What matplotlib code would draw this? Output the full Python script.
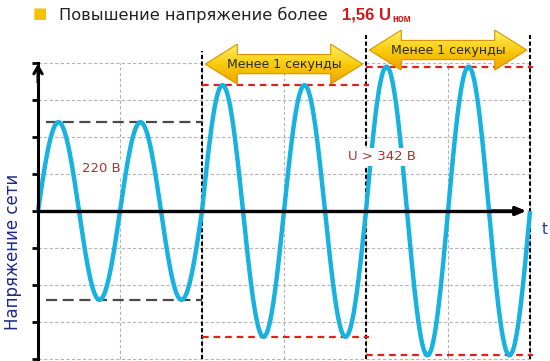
import numpy as np
import matplotlib.pyplot as plt
from matplotlib.patches import Polygon
from matplotlib.colors import LinearSegmentedColormap

# Участки сигнала: границы (в периодах) и амплитуда (в клетках сетки)
seg_start = [0, 2, 4]
seg_end = [2, 4, 6]
amplitudes = [2.4, 3.4, 3.9]
level_colors = ["#4a4a4a", "#e0201c", "#e0201c"]

# Сетка
grid_y = [-4, -3, -2, -1, 1, 2, 3, 4]
grid_x = [1, 2, 3, 4, 5, 6]

# Стрелки "Менее 1 секунды": начало, конец, высота центра
arrow_x0 = [2, 4]
arrow_x1 = [4, 6]
arrow_y = [3.97, 4.35]
arrow_text = "Менее 1 секунды"

# Границы участков (вертикальные пунктиры) и их верх
bound_x = [2, 4, 6]
bound_top = [4.32, 4.76, 4.76]

fig = plt.figure(figsize=(5.5, 3.61), dpi=100)
ax = fig.add_axes([0, 0, 1, 1])
ax.set_xlim(-38 / 82, 512 / 82)
ax.set_ylim((211 - 361) / 37, 211 / 37)

# Сетка серым пунктиром
ax.hlines(grid_y, 0, 6, colors="#b4b4b4", linestyles=(0, (3, 2)), lw=0.8, zorder=1)
ax.vlines(grid_x, -4, 4, colors="#b4b4b4", linestyles=(0, (3, 2)), lw=0.8, zorder=1)

# Синусоида
for x0, x1, a in zip(seg_start, seg_end, amplitudes):
    t = np.linspace(x0, x1, 400)
    ax.plot(t, a * np.sin(2 * np.pi * t), color="#18b2e0", lw=3.2, zorder=4,
            solid_capstyle="butt")

# Уровни амплитуды
for x0, x1, a, c in zip(seg_start, seg_end, amplitudes, level_colors):
    if c == "#4a4a4a":
        ax.hlines([a, -a], x0 + 0.1, x1, colors=c, linestyles=(0, (5, 2.5)), lw=1.6, zorder=3)
    else:
        ax.hlines([a, -a], x0, x1 + 0.04, colors=c, linestyles=(0, (3, 2.2)), lw=1.6, zorder=3)

# Границы участков
for x, top in zip(bound_x, bound_top):
    ax.vlines(x, -4, top, colors="black", linestyles=(0, (2, 1.2)), lw=1.5, zorder=2)

# Оси со стрелками
ax.spines[["top", "right"]].set_visible(False)
ax.spines["left"].set_position(("data", 0))
ax.spines["bottom"].set_position(("data", 0))
ax.spines["left"].set_bounds(-4, 4)
ax.spines["bottom"].set_bounds(0, 5.75)
ax.spines["left"].set_linewidth(2.2)
ax.spines["bottom"].set_linewidth(2.4)
ax.spines["left"].set_zorder(5)
ax.spines["bottom"].set_zorder(5)
ax.set_yticks(grid_y + [0])
ax.set_xticks([])
ax.tick_params(axis="y", direction="out", length=4, width=2, labelleft=False)
ax.annotate("", xy=(0, 4.05), xytext=(0, 3.4),
            arrowprops=dict(arrowstyle="->,head_length=0.5,head_width=0.3", lw=2.2, color="black"),
            zorder=6)
ax.annotate("", xy=(5.99, 0), xytext=(5.5, 0),
            arrowprops=dict(arrowstyle="-|>,head_length=0.6,head_width=0.25", lw=2.4, color="black"),
            zorder=6)

# Жёлтые двойные стрелки с градиентом
cmap = LinearSegmentedColormap.from_list("gold", ["#fff06a", "#f9cc0c", "#eda400"])
body, head, hl, inset = 0.26, 0.54, 0.39, 0.04
for x0, x1, yc in zip(arrow_x0, arrow_x1, arrow_y):
    a0, a1 = x0 + inset, x1 - inset
    pts = [(a0, yc), (a0 + hl, yc + head), (a0 + hl, yc + body), (a1 - hl, yc + body),
           (a1 - hl, yc + head), (a1, yc), (a1 - hl, yc - head), (a1 - hl, yc - body),
           (a0 + hl, yc - body), (a0 + hl, yc - head)]
    poly = Polygon(pts, closed=True, fc="none", ec="#d99400", lw=0.8, zorder=8)
    ax.add_patch(poly)
    grad = np.linspace(0, 1, 64).reshape(-1, 1)
    im = ax.imshow(grad, cmap=cmap, aspect="auto", origin="upper",
                   extent=(a0, a1, yc - head, yc + head), zorder=7)
    im.set_clip_path(poly)
    ax.text((x0 + x1) / 2, yc, arrow_text, ha="center", va="center",
            fontsize=9, color="#2a2a2a", zorder=9)
ax.set_xlim(-38 / 82, 512 / 82)
ax.set_ylim((211 - 361) / 37, 211 / 37)

# Подписи
ax.text(0.77, 1.16, "220 В", ha="center", va="center", fontsize=9.5, color="#a83232",
        zorder=6, bbox=dict(fc="white", ec="none", pad=1))
ax.text(4.2, 1.46, "U > 342 В", ha="center", va="center", fontsize=9.5, color="#a83232",
        zorder=6, bbox=dict(fc="white", ec="none", pad=1.5))
ax.text(6.18, -0.5, "t", ha="center", va="center", fontsize=11, color="#1f3c9c")
ax.text(-0.31, -1.1, "Напряжение сети", ha="center", va="center", rotation=90,
        fontsize=12, color="#1c2a8a")

# Заголовок
fig.text(40 / 550, 1 - 14 / 361, "■", ha="center", va="center", fontsize=11, color="#f5c000")
fig.text(59 / 550, 1 - 15 / 361, "Повышение напряжение более", ha="left", va="center",
         fontsize=11.7, color="#222222")
big = fig.text(342 / 550, 1 - 15 / 361, "1,56 U", ha="left", va="center", fontsize=12,
               color="#d01818", fontweight="bold", family="Liberation Sans")
fig.canvas.draw()
bb = big.get_window_extent()
fig.text((bb.x1 + 1) / 550, 1 - 19 / 361, "ном", ha="left", va="center", fontsize=7,
         color="#d01818", fontweight="bold", family="Liberation Sans")

fig.savefig("out.png", dpi=100)
